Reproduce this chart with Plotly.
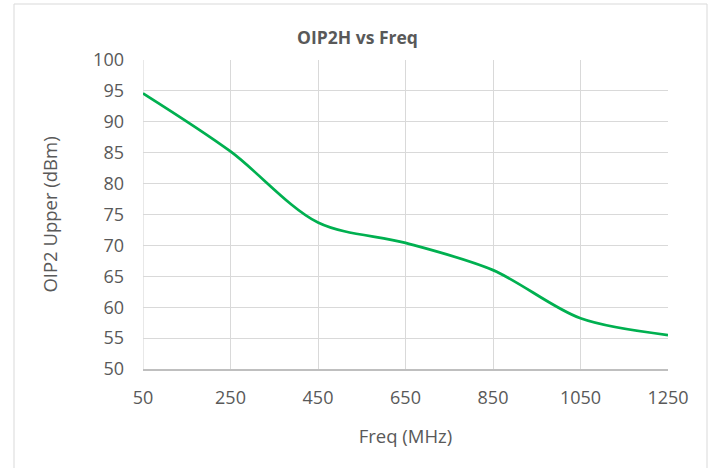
import plotly.graph_objects as go

freq_mhz = [50, 250, 450, 650, 850, 1050, 1250]
oip2_upper_dbm = [94.6, 85.2, 73.7, 70.4, 66.0, 58.2, 55.5]
x_ticks = [50, 250, 450, 650, 850, 1050, 1250]

FONT = "Open Sans"
GRAY = "#595959"

fig = go.Figure()
fig.add_trace(go.Scatter(
    x=freq_mhz, y=oip2_upper_dbm, mode="lines",
    line=dict(color="#00b050", width=2.75, shape="spline", smoothing=0.9),
    hoverinfo="x+y", showlegend=False,
))

fig.update_layout(
    width=710, height=468,
    margin=dict(l=143, r=42, t=60, b=99),
    paper_bgcolor="white", plot_bgcolor="white",
    font=dict(family=FONT, color=GRAY, size=18),
    title=dict(text="<b>OIP2H vs Freq</b>", x=357.5 / 710, xanchor="center",
               y=1 - 38 / 468, yanchor="middle",
               font=dict(family=FONT, size=17.5, color=GRAY)),
    xaxis=dict(range=[50, 1250], tickvals=x_ticks, ticktext=[str(v) for v in x_ticks],
               showgrid=True, gridcolor="#d9d9d9", gridwidth=1.2,
               showline=True, linecolor="#bfbfbf", linewidth=1.5,
               zeroline=False, ticks="", ticklabelstandoff=12,
               tickfont=dict(size=18, color=GRAY),
               title=dict(text="Freq (MHz)", font=dict(size=18.5, color=GRAY), standoff=22)),
    yaxis=dict(range=[50, 100], dtick=5, tick0=50,
               showgrid=True, gridcolor="#d9d9d9", gridwidth=1.2,
               showline=False, zeroline=False, ticks="",
               ticklabelstandoff=18,
               tickfont=dict(size=18, color=GRAY),
               title=dict(text="OIP2 Upper (dBm)", font=dict(size=18.5, color=GRAY), standoff=30)),
    shapes=[
        dict(type="line", xref="x", yref="paper", x0=50, x1=50, y0=0, y1=1,
             line=dict(color="#d9d9d9", width=1.2), layer="below"),
        dict(type="rect", xref="paper", yref="paper",
             x0=(14 - 143) / 525, x1=(707 - 143) / 525,
             y0=(369 - 480) / 309, y1=(369 - 4) / 309,
             line=dict(color="#d9d9d9", width=1), fillcolor="rgba(0,0,0,0)"),
    ],
)

fig.write_html("out.html", config={"displayModeBar": False},
               post_script="document.body.style.margin='0';")
